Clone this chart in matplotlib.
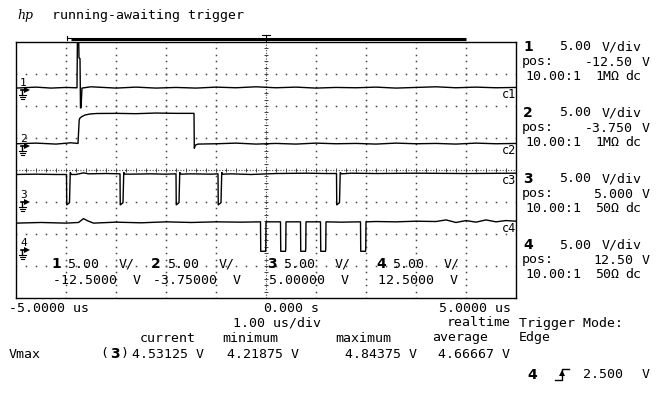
import numpy as np
import matplotlib
matplotlib.use('Agg')
import matplotlib.pyplot as plt
from matplotlib.lines import Line2D

# scope settings per channel
ch_names = ['1', '2', '3', '4']
vdiv = [5.0, 5.0, 5.0, 5.0]
vpos = [-12.5, -3.75, 5.0, 12.5]
pos_text = ['-12.50', '-3.750', '5.000', '12.50']
pos_text_long = ['-12.5000', '-3.75000', '5.00000', '12.5000']
probe = ['1M\u03a9', '1M\u03a9', '50\u03a9', '50\u03a9']

# time axis (us)
t_min, t_max = -5.0, 5.0

# channel 1: glitch near -3.75 us
ch1_t = [-5.0, -4.6, -4.3, -4.0, -3.8, -3.78, -3.77, -3.75, -3.74, -3.72, -3.71, -3.70, -3.68,
         -3.5, -3.0, -2.6, -2.2, -1.8, -1.4, -1.0, -0.6, -0.2, 0.2, 0.6, 1.0, 1.4, 1.8,
         2.2, 2.6, 3.0, 3.4, 3.8, 4.2, 4.6, 5.0]
ch1_v = [0.3, 0.45, 0.3, 0.4, 0.35, 0.35, 9.5, 9.5, 5.0, 4.9, -2.8, -2.8, 0.3,
         0.5, 0.3, 0.45, 0.3, 0.4, 0.3, 0.45, 0.35, 0.5, 0.35, 0.45, 0.3, 0.4, 0.35,
         0.45, 0.3, 0.4, 0.5, 0.35, 0.45, 0.35, 0.4]

# channel 2: enable pulse
ch2_t = [-5.0, -4.6, -4.2, -3.9, -3.76, -3.736, -3.72, -3.68, -3.62, -3.52, -3.38,
         -3.0, -2.6, -2.2, -1.8, -1.46, -1.44, -1.434, -1.41, -1.36,
         -1.0, -0.6, -0.2, 0.2, 0.6, 1.0, 1.4, 1.8, 2.2, 2.6, 3.0, 3.4, 3.8, 4.2, 4.6, 5.0]
ch2_v = [0.35, 0.45, 0.3, 0.5, 0.4, 4.06, 4.38, 4.61, 4.84, 5.0, 5.08,
         5.1, 5.05, 5.15, 5.1, 5.1, 5.1, -0.35, 0.15, 0.3,
         0.35, 0.45, 0.3, 0.4, 0.3, 0.45, 0.35, 0.4, 0.3, 0.45, 0.35, 0.4, 0.3, 0.45, 0.35, 0.4]

# channel 3: short low-going strobes
ch3_t = [-5.0, -4.6, -4.2, -3.99, -3.985, -3.96, -3.93, -3.915, -3.89,
         -3.8, -3.65, -3.55, -3.2, -2.92, -2.915, -2.89, -2.86, -2.845, -2.82,
         -2.7, -2.3, -2.0, -1.80, -1.795, -1.77, -1.74, -1.725, -1.70,
         -1.5, -1.1, -0.96, -0.955, -0.93, -0.90, -0.885, -0.86,
         -0.7, -0.3, 0.2, 0.8, 1.2, 1.41, 1.415, 1.44, 1.47, 1.485, 1.51,
         1.7, 2.2, 3.0, 4.0, 5.0]
ch3_v = [4.3, 4.35, 4.3, 4.3, -0.45, -0.3, -0.1, 4.6, 4.3,
         4.3, 4.55, 4.4, 4.45, 4.4, -0.45, -0.3, -0.1, 4.6, 4.35,
         4.35, 4.4, 4.35, 4.4, -0.45, -0.3, -0.1, 4.6, 4.35,
         4.4, 4.35, 4.4, -0.45, -0.3, -0.1, 4.6, 4.35,
         4.4, 4.3, 4.45, 4.5, 4.45, 4.45, -0.45, -0.3, -0.1, 4.6, 4.4,
         4.5, 4.45, 4.5, 4.45, 4.5]

# channel 4: data burst (trigger source)
ch4_t = [-5.0, -4.5, -4.0, -3.75, -3.65, -3.55, -3.45, -3.0, -2.5, -2.0, -1.5, -1.0, -0.5,
         -0.11, -0.105, -0.01, -0.005, 0.0,
         0.29, 0.295, 0.39, 0.395, 0.40,
         0.69, 0.695, 0.79, 0.795, 0.80,
         1.09, 1.095, 1.19, 1.195, 1.20,
         1.5, 1.89, 1.895, 1.99, 1.995, 2.0,
         2.2, 2.6, 3.0, 3.4, 3.6, 3.8, 4.0, 4.2, 4.4, 4.6, 4.8, 5.0]
ch4_v = [4.2, 4.3, 4.2, 4.3, 4.9, 4.5, 4.2, 4.35, 4.25, 4.4, 4.3, 4.4, 4.35,
         4.4, -0.2, -0.2, 0.2, 4.4,
         4.4, -0.2, -0.2, 0.2, 4.4,
         4.4, -0.2, -0.2, 0.2, 4.4,
         4.4, -0.2, -0.2, 0.2, 4.4,
         4.35, 4.4, -0.2, -0.2, 0.2, 4.4,
         4.45, 4.4, 4.5, 4.45, 4.7, 4.3, 4.6, 4.35, 4.7, 4.4, 4.6, 4.5]

traces = [(ch1_t, ch1_v), (ch2_t, ch2_v), (ch3_t, ch3_v), (ch4_t, ch4_v)]

# measurement readout
meas_heads = ['current', 'minimum', 'maximum', 'average']
meas_vals = ['4.53125 V', '4.21875 V', '4.84375 V', '4.66667 V']

W, H = 672, 400
MONO = 'DejaVu Sans Mono'
FS = 9.5

fig = plt.figure(figsize=(W / 100, H / 100), dpi=100)
fig.patch.set_facecolor('white')
ax = fig.add_axes([16 / W, 1 - 298 / H, 500 / W, 256 / H])
ax.set_xlim(t_min, t_max)
ax.set_ylim(-4, 4)
ax.set_xticks([])
ax.set_yticks([])
for s in ax.spines.values():
    s.set_linewidth(1.0)
    s.set_color('black')

px = (t_max - t_min) / 500.0   # us per pixel
py = 8.0 / 256.0              # div per pixel


def put(x, y, s, **kw):
    kw.setdefault('family', MONO)
    kw.setdefault('fontsize', FS)
    kw.setdefault('ha', 'left')
    kw.setdefault('va', 'center')
    fig.text(x / W, 1 - y / H, s, **kw)


def bold(x, y, s, **kw):
    put(x, y, s, family='DejaVu Sans', fontweight='bold', fontsize=10, **kw)


# dotted graticule
gx = np.arange(-5, 5.001, 0.2)
gy = np.arange(-4, 4.001, 0.2)
dot = dict(ls='none', marker='s', ms=1.1, mew=0, color='#444444')
for k in [-3, -2, -1, 1, 2, 3]:
    ax.plot(gx, np.full(gx.size, k), **dot)
for j in [-4, -3, -2, -1, 1, 2, 3, 4]:
    ax.plot(np.full(gy.size, j), gy, **dot)
ax.axhline(0, color='#444444', lw=0.8, ls=(0, (1, 1.5)))
ax.axvline(0, color='#444444', lw=0.8, ls=(0, (1, 1.5)))
ax.plot(gx, np.zeros(gx.size), ls='none', marker='|', ms=3, mew=0.7, color='#444444')
ax.plot(np.zeros(gy.size), gy, ls='none', marker='_', ms=3, mew=0.7, color='#444444')

# traces
for (t, v), pos, vd in zip(traces, vpos, vdiv):
    d = (np.array(v) - pos) / vd
    ax.plot(t, d, color='black', lw=1.0)

# channel ground markers and trace labels
for name, pos, vd, (t, v) in zip(ch_names, vpos, vdiv, traces):
    y0 = (0 - pos) / vd
    x0 = t_min
    ax.text(x0 + 4 * px, y0 + 7 * py, name, family=MONO, fontsize=8, ha='left', va='center')
    ax.plot([x0 + 5 * px, x0 + 11 * px], [y0, y0], color='k', lw=1.2)
    ax.plot(x0 + 11 * px, y0, marker='>', ms=4, color='k', mew=0)
    ax.plot([x0 + 6 * px, x0 + 6 * px], [y0, y0 - 5 * py], color='k', lw=1)
    for i, hw in enumerate([3.5, 2.5, 1.5]):
        yy = y0 - (5 + 2 * i) * py
        ax.plot([x0 + (6 - hw) * px, x0 + (6 + hw) * px], [yy, yy], color='k', lw=0.8)
    yl = (v[-1] - pos) / vd
    ax.text(t_max - 14 * px, yl - 7 * py, 'c' + name, family=MONO, fontsize=8.5,
            ha='left', va='center')

# record bar and trigger mark above the graticule
ax.plot([-3.9, 4.0], [4 + 3.5 * py] * 2, color='k', lw=2.2, solid_capstyle='butt', clip_on=False)
ax.plot([-3.98, -3.9], [4 + 4.5 * py] * 2, color='k', lw=0.8, clip_on=False)
ax.plot([-3.98, -3.98], [4 + 2.5 * py, 4 + 6.5 * py], color='k', lw=0.8, clip_on=False)
ax.plot([0, 0], [4, 4 + 7 * py], color='k', lw=0.8, clip_on=False)
ax.plot([-4 * px, 4 * px], [4 + 7 * py] * 2, color='k', lw=0.8, clip_on=False)

# header
put(17, 15, 'hp', family='DejaVu Serif', style='italic', fontsize=9)
put(52, 15, 'running-awaiting trigger')

# channel scale readout inside the graticule
blocks = [51, 151, 267, 376]
for bx, name, pt in zip(blocks, ch_names, pos_text_long):
    bold(bx, 264, name)
    put(bx + 16, 264, '5.00')
    put(bx + 68, 264, 'V/')
    put(bx + 2, 280, pt + '  V')

# right panel
for k, (name, ptxt, pr) in enumerate(zip(ch_names, pos_text, probe)):
    y0 = 47 + 66 * k
    bold(523, y0, name)
    put(559, y0, '5.00')
    put(602, y0, 'V/div')
    put(522, y0 + 15, 'pos:')
    put(633, y0 + 15, ptxt, ha='right')
    put(642, y0 + 15, 'V')
    put(525, y0 + 30, '10.00:1')
    put(595, y0 + 30, pr)
    put(625, y0 + 30, 'dc')

# time axis readout
put(9, 308, '-5.0000 us')
put(263, 308, '0.000')
put(311, 308, 's')
put(511, 308, '5.0000 us', ha='right')
put(233, 323, '1.00 us/div')
put(511, 323, 'realtime', ha='right')
put(519, 323, 'Trigger Mode:')
put(519, 338, 'Edge')

# measurements
for x, head in zip([140, 222, 335, 432], meas_heads):
    put(x, 338, head)
put(9, 354, 'Vmax')
put(100, 354, '(')
bold(110, 354, '3')
put(121, 354, ')')
for x, val in zip([132, 227, 345, 438], meas_vals):
    put(x, 354, val)

# trigger setting
bold(527, 375, '4')
sym_x = np.array([555, 562, 562, 569])
sym_y = np.array([380, 380, 369, 369])
fig.add_artist(Line2D(sym_x / W, 1 - sym_y / H, transform=fig.transFigure, color='k', lw=1))
fig.add_artist(Line2D([562 / W], [1 - 373 / H], transform=fig.transFigure, marker='^',
                      ms=4, color='k', mew=0))
put(583, 375, '2.500')
put(642, 375, 'V')

fig.savefig('out.png', dpi=100, facecolor='white')
